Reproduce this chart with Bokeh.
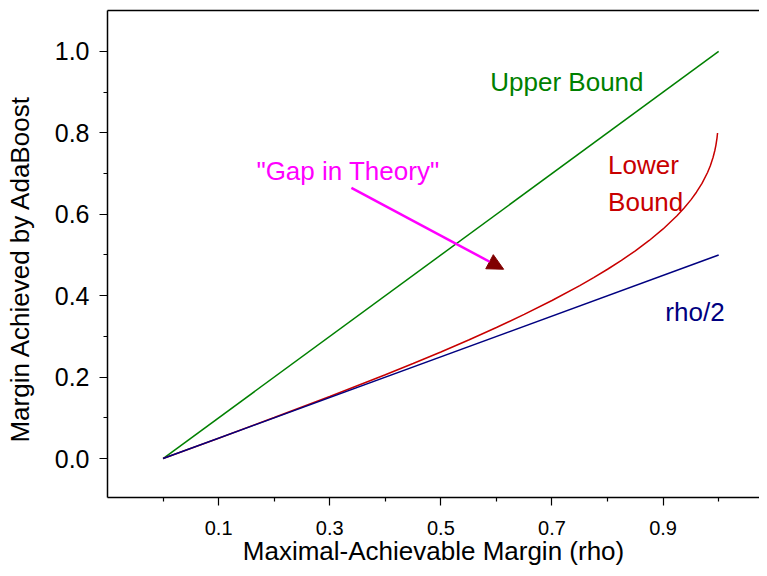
from bokeh.plotting import figure
from bokeh.models import (FixedTicker, NumeralTickFormatter, LinearAxis, Label,
                          Arrow, NormalHead, Range1d)
from bokeh.embed import file_html
from bokeh.resources import INLINE

# ---- data ----
rho = [0.0, 0.1, 0.2, 0.3, 0.4, 0.45, 0.5, 0.55, 0.6, 0.65, 0.7, 0.75, 0.775,
       0.8, 0.825, 0.85, 0.875, 0.9, 0.925, 0.9375, 0.95, 0.96, 0.97, 0.98,
       0.985, 0.99, 0.993, 0.995, 0.997, 0.998]
lower_bound = [0.0, 0.0501, 0.1007, 0.1524, 0.2058, 0.2334, 0.2619, 0.2913,
               0.3219, 0.3541, 0.3882, 0.4248, 0.4444, 0.4650, 0.4868, 0.5103,
               0.5357, 0.5640, 0.5964, 0.6148, 0.6354, 0.6542, 0.6759, 0.7027,
               0.7193, 0.7400, 0.7560, 0.7694, 0.7872, 0.7996]
upper_x = [0.0, 1.0]
upper_y = [0.0, 1.0]
half_x = [0.0, 1.0]
half_y = [0.0, 0.5]

x_major_ticks = [0.1, 0.3, 0.5, 0.7, 0.9]
x_minor_ticks = [0.0, 0.2, 0.4, 0.6, 0.8, 1.0]
y_major_ticks = [0.0, 0.2, 0.4, 0.6, 0.8, 1.0]
y_minor_ticks = [0.1, 0.3, 0.5, 0.7, 0.9]

x_title = "Maximal-Achievable Margin (rho)"
y_title = "Margin Achieved by AdaBoost"

FONT = "Liberation Sans"
NBSP = "\u00a0"

p = figure(width=759, height=568, output_backend="svg", toolbar_location=None,
           x_range=Range1d(-0.1, 1.0735), y_range=Range1d(-0.0956, 1.1005),
           min_border_left=107, min_border_right=0, min_border_top=10,
           min_border_bottom=70, x_axis_type=None, y_axis_type=None)
p.outline_line_color = None
p.xgrid.visible = False
p.ygrid.visible = False
p.background_fill_color = "white"
p.border_fill_color = "white"

xaxis = LinearAxis(ticker=FixedTicker(ticks=x_major_ticks, minor_ticks=x_minor_ticks),
                   formatter=NumeralTickFormatter(format="0.0"),
                   axis_label=x_title)
# trailing no-break spaces shift the rotated title down, as in the reference
yaxis = LinearAxis(ticker=FixedTicker(ticks=y_major_ticks, minor_ticks=y_minor_ticks),
                   formatter=NumeralTickFormatter(format="0.0"),
                   axis_label=y_title + NBSP * 4)
for ax, lab_size in ((xaxis, "20px"), (yaxis, "25px")):
    ax.axis_line_width = 1.5
    ax.axis_line_color = "black"
    ax.major_tick_line_width = 1.2
    ax.minor_tick_line_width = 1.2
    ax.major_tick_in = 0
    ax.major_tick_out = 8
    ax.minor_tick_in = 0
    ax.minor_tick_out = 4
    ax.major_label_text_font = FONT
    ax.major_label_text_font_size = lab_size
    ax.major_label_text_color = "black"
    ax.axis_label_text_font = FONT
    ax.axis_label_text_font_size = "26px"
    ax.axis_label_text_font_style = "normal"
    ax.axis_label_text_color = "black"
xaxis.major_label_standoff = 15
xaxis.axis_label_standoff = -2
yaxis.major_label_standoff = 10
yaxis.axis_label_standoff = 17
p.add_layout(xaxis, "below")
p.add_layout(yaxis, "left")

top = LinearAxis(ticker=FixedTicker(ticks=[]), major_tick_out=0, major_tick_in=0,
                 minor_tick_out=0, minor_tick_in=0, major_label_text_font_size="0px",
                 axis_line_width=1.5, axis_line_color="black")
p.add_layout(top, "above")

p.line(upper_x, upper_y, line_color="#008000", line_width=1.5)
p.line(rho, lower_bound, line_color="#c80000", line_width=1.5)
p.line(half_x, half_y, line_color="#000080", line_width=1.5)

def lab(x, y, text, color):
    p.add_layout(Label(x=x, y=y, text=text, text_color=color, text_font=FONT,
                       text_font_size="26px", text_align="left",
                       text_baseline="alphabetic"))

lab(0.589, 0.924, "Upper Bound", "#008000")
lab(0.801, 0.7206, "Lower", "#c80000")
lab(0.801, 0.6306, "Bound", "#c80000")
lab(0.904, 0.361, "rho/2", "#000080")
lab(0.168, 0.7066, "\"Gap in Theory\"", "#ff00ff")

p.add_layout(Arrow(end=NormalHead(size=16, fill_color="#800000", line_color="#800000"),
                   x_start=0.339, y_start=0.665, x_end=0.613, y_end=0.465,
                   line_color="#ff00ff", line_width=2.5))

open("out.html", "w").write(file_html(p, INLINE))
